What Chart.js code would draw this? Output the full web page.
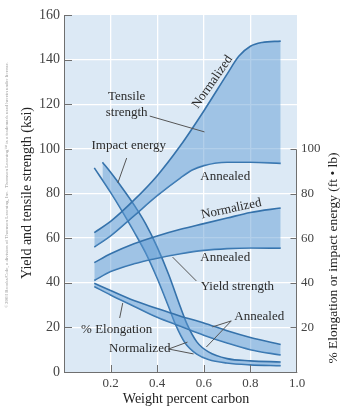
<!DOCTYPE html>
<html><head><meta charset="utf-8">
<script src="https://cdn.jsdelivr.net/npm/chart.js@4.4.1/dist/chart.umd.min.js"></script>
<style>html,body{margin:0;padding:0;background:#fff;}#wrap{width:342px;height:410px;position:relative}</style>
</head><body><div id="wrap"><canvas id="c" width="342" height="410"></canvas></div>
<script>
// ---- data (weight percent carbon vs property) ----
const xTicks = [0.2, 0.4, 0.6, 0.8, 1.0];
const leftTicks = [0, 20, 40, 60, 80, 100, 120, 140, 160];
const rightTicks = [20, 40, 60, 80, 100];

const tensileNormX = [0.13, 0.2, 0.3, 0.4, 0.5, 0.6, 0.7, 0.75, 0.8, 0.85, 0.93];
const tensileNormY = [62.5, 67.5, 77, 88, 101.5, 117, 133.5, 141.5, 146, 147.7, 148.3];
const tensileAnnX = [0.13, 0.2, 0.3, 0.4, 0.5, 0.55, 0.6, 0.7, 0.8, 0.93];
const tensileAnnY = [56, 61, 70, 79, 87, 90.5, 92.5, 94, 94, 93.5];

const yieldX = [0.13, 0.2, 0.3, 0.4, 0.5, 0.6, 0.7, 0.8, 0.93];
const yieldNormY = [49, 53, 57.5, 61, 64, 66.5, 69, 71.5, 73.5];
const yieldAnnY = [41, 45, 48.5, 51, 53, 54.5, 55.3, 55.6, 55.5];

const elongX = [0.13, 0.2, 0.3, 0.4, 0.5, 0.6, 0.7, 0.8, 0.93];
const elongAnnY = [39.8, 36.5, 32, 28.5, 25, 22, 18.5, 15.5, 12.3];
const elongNormY = [38.3, 34.5, 29.5, 24.5, 20.5, 16.5, 13, 10, 7.6];

const impactUpX = [0.165, 0.2, 0.25, 0.3, 0.35, 0.4, 0.45, 0.5, 0.53, 0.57, 0.62, 0.7, 0.8, 0.93];
const impactUpY = [94, 89.5, 82.5, 75, 66.5, 56, 43.5, 29, 21, 13.5, 9, 6, 5, 4.5];
const impactLoX = [0.13, 0.2, 0.25, 0.3, 0.35, 0.4, 0.45, 0.48, 0.52, 0.57, 0.62, 0.7, 0.8, 0.93];
const impactLoY = [91.5, 80.5, 72, 63, 53.5, 42, 29, 21, 13, 8, 5.6, 4, 3.2, 2.8];

// ---- styling ----
const LINE = '#3572ab';
const FILL = 'rgba(92,152,210,0.47)';
const BG = '#dce9f5';
const SERIF = '"Liberation Serif", "DejaVu Serif", serif';
const TXT = '#2b2b2b';

function pts(xs, ys) { return xs.map((x, i) => ({ x: x, y: ys[i] })); }
function ds(xs, ys, fill) {
  return { data: pts(xs, ys), borderColor: LINE, borderWidth: 1.6, pointRadius: 0,
    backgroundColor: FILL, fill: fill, cubicInterpolationMode: 'monotone' };
}

// annotations in data coordinates
const notes = [
  { t: 'Tensile', x: 0.269, y: 123.3 },
  { t: 'strength', x: 0.269, y: 116.1 },
  { t: 'Impact energy', x: 0.278, y: 101.5 },
  { t: 'Normalized', x: 0.637, y: 130, r: -55 },
  { t: 'Annealed', x: 0.692, y: 87.4 },
  { t: 'Normalized', x: 0.718, y: 73.1, r: -12 },
  { t: 'Annealed', x: 0.692, y: 51.1 },
  { t: 'Yield strength', x: 0.744, y: 38.1 },
  { t: 'Annealed', x: 0.838, y: 24.7 },
  { t: '% Elongation', x: 0.226, y: 18.8 },
  { t: 'Normalized', x: 0.325, y: 10.3 }
];
const leaders = [
  [0.368, 114.7, 0.603, 107.6],
  [0.269, 95.9, 0.231, 84.7],
  [0.568, 40.8, 0.466, 51.5],
  [0.718, 22.9, 0.637, 20.2],
  [0.718, 22.9, 0.611, 11.2],
  [0.239, 24.2, 0.252, 30.9],
  [0.449, 10.3, 0.530, 13.4],
  [0.449, 10.3, 0.556, 8.1]
];

function txt(ctx, s, x, y, rot, font, color) {
  ctx.save(); ctx.translate(x, y); ctx.rotate((rot || 0) * Math.PI / 180);
  ctx.font = font; ctx.fillStyle = color; ctx.textAlign = 'center'; ctx.textBaseline = 'middle';
  ctx.fillText(s, 0, 0); ctx.restore();
}

const decor = {
  id: 'decor',
  beforeDraw(chart) {
    const a = chart.chartArea, c = chart.ctx;
    c.save(); c.fillStyle = BG; c.fillRect(a.left, a.top, a.right - a.left, a.bottom - a.top); c.restore();
  },
  afterDraw(chart) {
    const c = chart.ctx, a = chart.chartArea, sx = chart.scales.x, sy = chart.scales.y;
    c.save();
    c.strokeStyle = '#6f6f6f'; c.lineWidth = 1;
    // inward ticks
    c.beginPath();
    xTicks.forEach(v => { if (v < 1) { const p = Math.round(sx.getPixelForValue(v)) + 0.5; c.moveTo(p, a.bottom); c.lineTo(p, a.bottom - 7); } });
    leftTicks.forEach(v => { if (v > 0) { const p = Math.round(sy.getPixelForValue(v)) + 0.5; c.moveTo(a.left, p); c.lineTo(a.left + 8, p); } });
    const rx = Math.round(a.right) - 0.5;
    rightTicks.forEach(v => { const p = Math.round(sy.getPixelForValue(v)) + 0.5; c.moveTo(rx, p); c.lineTo(rx - 6, p); });
    c.moveTo(rx, a.bottom); c.lineTo(rx, Math.round(sy.getPixelForValue(100)) + 0.5);
    c.stroke();
    // leader lines
    c.strokeStyle = '#555'; c.lineWidth = 1;
    c.beginPath();
    leaders.forEach(l => {
      c.moveTo(sx.getPixelForValue(l[0]), sy.getPixelForValue(l[1]));
      c.lineTo(sx.getPixelForValue(l[2]), sy.getPixelForValue(l[3]));
    });
    c.stroke();
    c.restore();
    // annotations
    notes.forEach(n => txt(c, n.t, sx.getPixelForValue(n.x), sy.getPixelForValue(n.y), n.r, '13px ' + SERIF, TXT));
    // titles
    txt(c, 'Yield and tensile strength (ksi)', 27, 193, -90, '14px ' + SERIF, '#222');
    txt(c, '% Elongation or impact energy (ft \u2022 lb)', 333, 258, -90, '13.5px ' + SERIF, '#222');
    txt(c, 'Weight percent carbon', 186, 399, 0, '14px ' + SERIF, '#222');
    txt(c, '\u00a92003 Brooks/Cole, a division of Thomson Learning, Inc.  Thomson Learning\u2122 is a trademark used herein under license.', 7, 185, -90, '5px ' + SERIF, '#999');
  }
};

new Chart(document.getElementById('c'), {
  type: 'line',
  data: {
    datasets: [
      ds(tensileNormX, tensileNormY, '+1'),
      ds(tensileAnnX, tensileAnnY, false),
      ds(yieldX, yieldNormY, '+1'),
      ds(yieldX, yieldAnnY, false),
      ds(elongX, elongAnnY, '+1'),
      ds(elongX, elongNormY, false),
      ds(impactUpX, impactUpY, '+1'),
      ds(impactLoX, impactLoY, false)
    ]
  },
  options: {
    responsive: false, animation: false, events: [],
    layout: { padding: { top: 15, left: 0, right: 0, bottom: 0 } },
    plugins: { legend: { display: false }, tooltip: { enabled: false } },
    scales: {
      x: {
        type: 'linear', min: 0, max: 1,
        afterBuildTicks: s => { s.ticks = [0].concat(xTicks).map(v => ({ value: v })); },
        ticks: { callback: v => v === 0 ? '' : v.toFixed(1), font: { family: SERIF, size: 13 }, color: '#444', padding: 4, maxRotation: 0 },
        grid: { drawTicks: false, lineWidth: 1.3, color: ctx => (ctx.tick && ctx.tick.value > 0.01 && ctx.tick.value < 0.99) ? '#ffffff' : 'rgba(0,0,0,0)' },
        border: { display: true, color: '#6f6f6f', width: 1 },
        afterFit: s => { s.height = 38; }
      },
      y: {
        position: 'left', min: 0, max: 160,
        afterBuildTicks: s => { s.ticks = leftTicks.map(v => ({ value: v })); },
        ticks: { font: { family: SERIF, size: 14 }, color: '#444', padding: 4 },
        grid: { drawTicks: false, lineWidth: 1.3, color: ctx => (ctx.tick && ctx.tick.value > 0 && ctx.tick.value < 160) ? '#ffffff' : 'rgba(0,0,0,0)' },
        border: { display: true, color: '#6f6f6f', width: 1 },
        afterFit: s => { s.width = 64; }
      },
      y2: {
        position: 'right', min: 0, max: 160,
        afterBuildTicks: s => { s.ticks = rightTicks.map(v => ({ value: v })); },
        ticks: { font: { family: SERIF, size: 13 }, color: '#444', padding: 4 },
        grid: { display: false, drawTicks: false },
        border: { display: false },
        afterFit: s => { s.width = 45; }
      }
    }
  },
  plugins: [decor]
});
</script>
</body></html>
